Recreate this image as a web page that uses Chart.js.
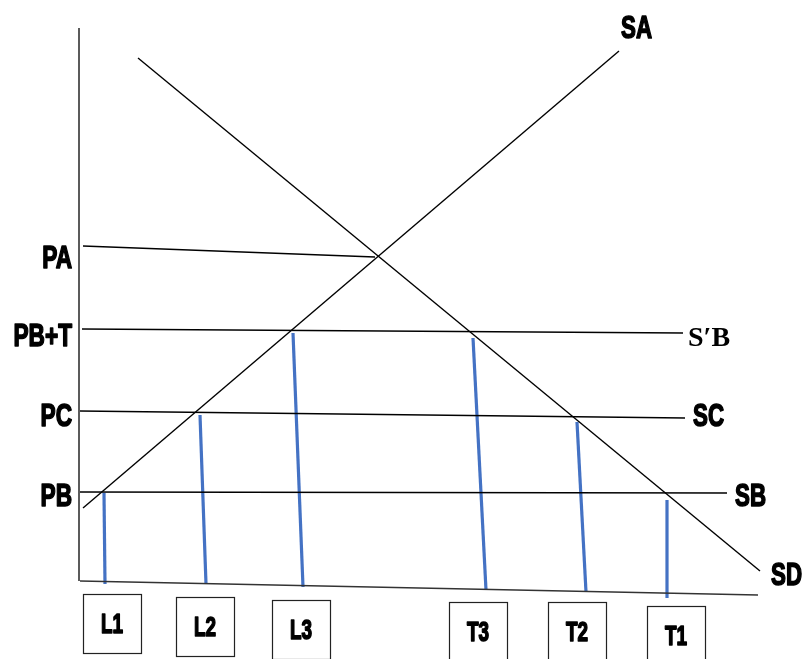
<!DOCTYPE html>
<html>
<head>
<meta charset="utf-8">
<script src="https://cdn.jsdelivr.net/npm/chart.js@4.4.1/dist/chart.umd.min.js"></script>
<style>
  html, body { margin: 0; padding: 0; background: #fff; }
  #wrap { width: 803px; height: 659px; }
</style>
</head>
<body>
<div id="wrap"><canvas id="grafica" width="803" height="659"></canvas></div>
<script>
// coordenadas (eje x a la derecha, eje y hacia abajo)
const curveNames = ['SA', 'SD', 'PA', 'PB+T', 'PC', 'PB', 'ejeY', 'ejeX'];
const curveX1 = [83, 138, 83, 82, 80, 80, 79, 80];
const curveY1 = [508, 58, 246, 329, 411, 492, 28, 581];
const curveX2 = [619, 760, 375, 683, 685, 727, 79, 758];
const curveY2 = [51, 571, 257, 333, 418, 493, 581, 595];

const qLabels  = ['L1', 'L2', 'L3', 'T3', 'T2', 'T1'];
const qTopX    = [104, 200, 293, 473, 577, 667];
const qTopY    = [493, 415, 333, 338, 422, 500];
const qBottomX = [105, 206, 303, 486, 586, 667];
const qBottomY = [584, 584, 587, 590, 592, 598];

const priceLabels = ['PA', 'PB+T', 'PC', 'PB'];
const priceLabelY = [259, 337, 417, 497];

const curveLabels = ['SA', 'S\u2032B', 'SC', 'SB', 'SD'];

const fuente = "'Liberation Sans', Arial, sans-serif";

let datasets = [];
for (let i = 0; i < curveNames.length; i++) {
  const eje = curveNames[i].indexOf('eje') === 0;
  datasets.push({
    label: curveNames[i],
    data: [{ x: curveX1[i], y: curveY1[i] }, { x: curveX2[i], y: curveY2[i] }],
    showLine: true,
    borderColor: eje ? '#333' : '#000',
    borderWidth: eje ? 1.6 : 1.4,
    pointRadius: 0
  });
}
for (let i = 0; i < qLabels.length; i++) {
  datasets.push({
    label: qLabels[i],
    data: [{ x: qTopX[i], y: qTopY[i] }, { x: qBottomX[i], y: qBottomY[i] }],
    showLine: true,
    borderColor: '#4472C4',
    borderWidth: 3.2,
    pointRadius: 0
  });
}

// cajas de las cantidades: desplazamiento respecto a la base de la linea azul
const cajaDx   = [7, -1, -2, -8, -9, 9];
const cajaTop  = [594, 597, 600, 602, 602, 606];

// texto angosto y grueso (parecido a Calibri negrita)
function textoAngosto(ctx, t, x, y, align, escala) {
  ctx.save();
  ctx.translate(x, y);
  ctx.scale(escala, 1);
  ctx.textAlign = align;
  ctx.lineWidth = 1.6;
  ctx.lineJoin = 'round';
  ctx.strokeStyle = '#000';
  ctx.strokeText(t, 0, 0);
  ctx.fillText(t, 0, 0);
  ctx.restore();
}

const textos = {
  id: 'textos',
  afterDraw(chart) {
    const ctx = chart.ctx;
    const sx = chart.scales.x, sy = chart.scales.y;
    ctx.save();
    ctx.fillStyle = '#000';
    ctx.textBaseline = 'middle';

    // etiquetas de precio
    ctx.font = 'bold 31px ' + fuente;
    priceLabels.forEach((t, i) => {
      textoAngosto(ctx, t, sx.getPixelForValue(72), sy.getPixelForValue(priceLabelY[i]), 'right', 0.73);
    });

    // etiquetas de las curvas
    textoAngosto(ctx, curveLabels[0], sx.getPixelForValue(621), sy.getPixelForValue(29), 'left', 0.72);
    textoAngosto(ctx, curveLabels[2], sx.getPixelForValue(693), sy.getPixelForValue(417), 'left', 0.72);
    textoAngosto(ctx, curveLabels[3], sx.getPixelForValue(735), sy.getPixelForValue(497), 'left', 0.72);
    textoAngosto(ctx, curveLabels[4], sx.getPixelForValue(771), sy.getPixelForValue(576), 'left', 0.72);
    ctx.font = "bold 28px 'Liberation Serif', 'DejaVu Serif', serif";
    ctx.textAlign = 'left';
    ctx.fillText(curveLabels[1], sx.getPixelForValue(688), sy.getPixelForValue(339));

    // cajas
    ctx.strokeStyle = '#222';
    ctx.lineWidth = 1.2;
    ctx.font = 'bold 27px ' + fuente;
    qLabels.forEach((t, i) => {
      const cx = sx.getPixelForValue(qBottomX[i] + cajaDx[i]);
      const top = sy.getPixelForValue(cajaTop[i]);
      ctx.strokeStyle = '#222';
      ctx.lineWidth = 1.2;
      ctx.strokeRect(Math.round(cx - 29) + 0.5, Math.round(top) + 0.5, 58, 59);
      textoAngosto(ctx, t, cx, top + 32, 'center', 0.7);
    });
    ctx.restore();
  }
};

new Chart(document.getElementById('grafica').getContext('2d'), {
  type: 'scatter',
  data: { datasets: datasets },
  options: {
    responsive: false,
    animation: false,
    layout: { padding: 0 },
    plugins: { legend: { display: false }, tooltip: { enabled: false } },
    scales: {
      x: { type: 'linear', min: 0, max: 803, display: false },
      y: { type: 'linear', min: 0, max: 659, reverse: true, display: false }
    }
  },
  plugins: [textos]
});
</script>
</body>
</html>
